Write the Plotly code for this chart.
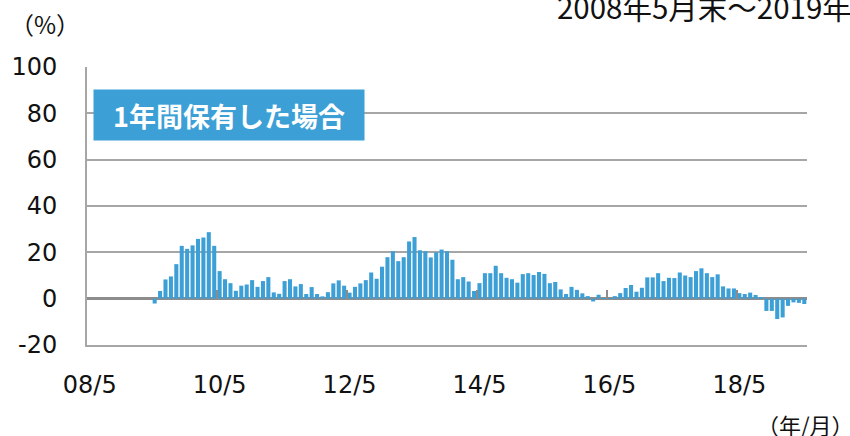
import plotly.graph_objects as go

# Monthly categories 2008/05 .. 2019/05
MONTHS = []
for y in range(2008, 2020):
    for m in range(1, 13):
        if (y, m) < (2008, 5) or (y, m) > (2019, 5):
            continue
        MONTHS.append(f"{y}/{m:02d}")

# 1-year holding return (%), first 12 months have no data
RETURNS = [None] * 12 + [
    -2.1, 3.3, 8.3, 9.6, 14.9, 22.8, 21.5, 23.0, 25.8, 26.4, 28.7, 22.8,   # 09/5-10/4
    11.9, 8.4, 6.7, 3.4, 5.6, 6.1, 8.0, 5.1, 7.6, 9.3, 2.7, 2.1,           # 10/5-11/4
    7.6, 8.4, 5.3, 6.3, 2.0, 5.0, 2.0, 1.0, 2.8, 6.6, 7.9, 5.6,            # 11/5-12/4
    2.6, 5.1, 6.6, 8.0, 11.3, 8.6, 13.8, 17.9, 20.5, 16.2, 17.9, 24.7,     # 12/5-13/4
    26.6, 20.9, 20.5, 17.8, 20.0, 21.2, 20.5, 16.8, 8.4, 9.3, 7.4, 3.3,    # 13/5-14/4
    6.7, 11.0, 11.0, 14.2, 11.0, 9.0, 8.4, 6.9, 10.6, 11.0, 10.2, 11.5,    # 14/5-15/4
    10.7, 6.7, 7.2, 4.0, 2.0, 5.1, 3.8, 2.3, 1.1, -1.2, 1.7, 0.2,          # 15/5-16/4
    0.2, 1.1, 2.4, 4.6, 5.9, 3.0, 4.7, 9.2, 9.2, 11.0, 7.6, 9.0,           # 16/5-17/4
    8.9, 11.3, 10.0, 9.3, 11.9, 13.1, 11.0, 9.3, 10.5, 5.3, 4.4, 4.4,      # 17/5-18/4
    2.4, 2.0, 2.6, 1.6, 0.7, -5.3, -5.3, -8.8, -8.1, -3.1, -1.6, -1.8,     # 18/5-19/4
    -2.3,                                                                  # 19/5
]

TICK_MONTHS = ["2008/05", "2010/05", "2012/05", "2014/05", "2016/05", "2018/05"]
TICK_LABELS = ["08/5", "10/5", "12/5", "14/5", "16/5", "18/5"]
Y_TICKS = [-20, 0, 20, 40, 60, 80, 100]
Y_TICK_LABELS = ["-20", "0", "20", "40", "60", "80", "100"]

TITLE = "2008年5月末～2019年5月末"
BOX_LABEL = "1年間保有した場合"

BLUE = "#3C9FD6"
GRID = "#A6A6A6"
CJK = "Noto Sans CJK JP"
LAT = "DejaVu Sans"

# plot area in pixels
L, R, T, B = 87, 807, 67, 345
W, H = 850, 436
PW, PH = R - L, B - T


def px(xp):
    return (xp - L) / PW


def py(yp):
    return (B - yp) / PH


n = len(MONTHS)
fig = go.Figure()
fig.add_trace(go.Bar(x=MONTHS, y=RETURNS, marker=dict(color=BLUE, line=dict(width=0)),
                     showlegend=False, hoverinfo="x+y"))
# invisible trace to activate the overlay axis used for boundary ticks at y=0
fig.add_trace(go.Scatter(x=[-0.5, n - 0.5], y=[None, None], xaxis="x2", yaxis="y",
                         mode="markers", showlegend=False, hoverinfo="skip"))

boundary_ticks = [MONTHS.index(m) - 0.5 for m in TICK_MONTHS[1:]]

fig.update_layout(
    width=W, height=H,
    margin=dict(l=L, r=W - R, t=T, b=H - B, autoexpand=False),
    paper_bgcolor="white", plot_bgcolor="white",
    bargap=0.25,
    xaxis=dict(type="category", categoryorder="array", categoryarray=MONTHS,
               range=[-0.5, n - 0.5], automargin=False,
               tickmode="array", tickvals=TICK_MONTHS, ticktext=TICK_LABELS,
               ticks="", showgrid=False, zeroline=False,
               showline=True, linecolor=GRID, linewidth=2, mirror=False,
               tickfont=dict(family=LAT, size=24, color="#111111"),
               ticklabelstandoff=17),
    xaxis2=dict(overlaying="x", anchor="free", position=(0 - Y_TICKS[0]) / (Y_TICKS[-1] - Y_TICKS[0]),
                range=[-0.5, n - 0.5], side="bottom", automargin=False,
                tickmode="array", tickvals=boundary_ticks, showticklabels=False,
                ticks="inside", ticklen=9, tickwidth=2, tickcolor="#8C8C8C",
                showgrid=False, zeroline=False, showline=False),
    yaxis=dict(range=[Y_TICKS[0], Y_TICKS[-1]], tickmode="array", tickvals=Y_TICKS,
               ticktext=Y_TICK_LABELS, automargin=False,
               showgrid=True, gridcolor=GRID, gridwidth=2,
               zeroline=True, zerolinecolor="#8C8C8C", zerolinewidth=2.5,
               showline=True, linecolor=GRID, linewidth=2,
               ticks="", tickfont=dict(family=LAT, size=24, color="#111111"),
               ticklabelstandoff=23),
    annotations=[
        dict(text=BOX_LABEL, xref="paper", yref="paper", x=px(93), y=py(89),
             xanchor="left", yanchor="top", showarrow=False,
             width=270, height=50, borderpad=0, bgcolor=BLUE, align="center", valign="middle",
             font=dict(family=CJK, size=27, color="white", weight="bold")),
        dict(text="（%）", xref="paper", yref="paper", x=px(45), y=py(23),
             xanchor="center", yanchor="middle", showarrow=False,
             font=dict(family=CJK, size=24, color="#111111")),
        dict(text=TITLE, xref="paper", yref="paper", x=px(555), y=py(6),
             xanchor="left", yanchor="middle", showarrow=False,
             font=dict(family=CJK, size=29.5, color="#111111")),
        dict(text="（年/月）", xref="paper", yref="paper", x=px(856), y=py(424),
             xanchor="right", yanchor="middle", showarrow=False,
             font=dict(family=CJK, size=22, color="#111111")),
    ],
)

# remove the browser's default 8px page margin so the figure sits at the window origin
fig.write_html("out.html", config={"displayModeBar": False},
               post_script="document.body.style.margin='0px';")
